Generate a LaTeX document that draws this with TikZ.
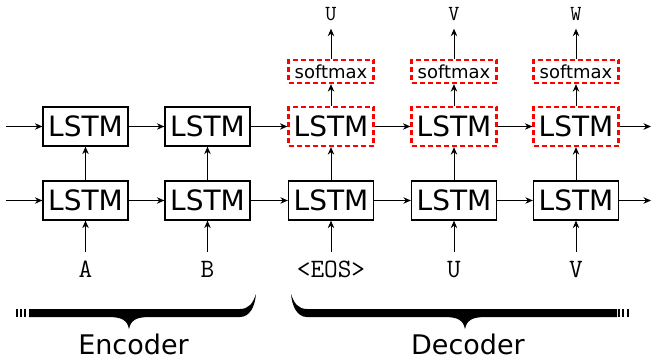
\documentclass[tikz,border=0pt]{standalone}
\usepackage{fontspec}
\newfontfamily\dejavu{DejaVu Sans}
\usetikzlibrary{arrows.meta}
\tikzset{
  lstmbox/.style={draw=black, line width=1.3pt, minimum width=85pt, minimum height=39pt, inner sep=0pt, font=\dejavu\fontsize{28}{30}\selectfont},
  redbox/.style={draw=red, line width=2.3pt, dash pattern=on 5pt off 3pt},
  smbox/.style={minimum width=85pt, minimum height=23pt, inner sep=0pt, font=\dejavu\fontsize{18}{20}\selectfont},
  inlab/.style={font=\ttfamily\fontsize{26.5}{28}\selectfont, anchor=base, inner sep=0pt, text height=17pt, text depth=0pt},
  outlab/.style={font=\ttfamily\fontsize{21.5}{23}\selectfont, anchor=base, inner sep=0pt, text height=13pt, text depth=0pt},
  arr/.style={-{Stealth[length=7.5pt,width=6.5pt]}, line width=1pt},
  partlab/.style={font=\dejavu\fontsize{27}{29}\selectfont, anchor=base, inner sep=0pt, text height=20pt, text depth=0pt},
  bracefill/.style={fill=black, draw=none}
}
\begin{document}
\begin{tikzpicture}[x=1pt,y=-1pt]
\useasboundingbox (0,0) rectangle (657,357);
% columns
\def\ca{85.5}\def\cb{207.5}\def\cc{331}\def\cd{454}\def\ce{576}
% bottom row
\node[lstmbox] (b1) at (\ca,200.5) {LSTM};
\node[lstmbox] (b2) at (\cb,200.5) {LSTM};
\node[lstmbox] (b3) at (\cc,200.5) {LSTM};
\node[lstmbox] (b4) at (\cd,200.5) {LSTM};
\node[lstmbox] (b5) at (\ce,200.5) {LSTM};
% top row
\node[lstmbox] (t1) at (\ca,126.5) {LSTM};
\node[lstmbox] (t2) at (\cb,126.5) {LSTM};
\node[lstmbox,redbox] (t3) at (\cc,126.5) {LSTM};
\node[lstmbox,redbox] (t4) at (\cd,126.5) {LSTM};
\node[lstmbox,redbox] (t5) at (\ce,126.5) {LSTM};
% softmax
\node[smbox,redbox] (s3) at (\cc,71.5) {softmax};
\node[smbox,redbox] (s4) at (\cd,71.5) {softmax};
\node[smbox,redbox] (s5) at (\ce,71.5) {softmax};
% inputs
\node[inlab] (i1) at (\ca,277) {A};
\node[inlab] (i2) at (\cb,277) {B};
\node[inlab] (i3) at (\cc,277) {<EOS>};
\node[inlab] (i4) at (\cd,277) {U};
\node[inlab] (i5) at (\ce,277) {V};
% outputs
\node[outlab] (o3) at (\cc,20.5) {U};
\node[outlab] (o4) at (\cd,20.5) {V};
\node[outlab] (o5) at (\ce,20.5) {W};
% free ends
\coordinate (tin) at (6,126.5);
\coordinate (bin) at (6,200.5);
\coordinate (tout) at (651,126.5);
\coordinate (bout) at (651,200.5);
% horizontal arrows
\draw[arr] (tin) -- (t1);
\draw[arr] (t1) -- (t2);
\draw[arr] (t2) -- (t3);
\draw[arr] (t3) -- (t4);
\draw[arr] (t4) -- (t5);
\draw[arr] (t5) -- (tout);
\draw[arr] (bin) -- (b1);
\draw[arr] (b1) -- (b2);
\draw[arr] (b2) -- (b3);
\draw[arr] (b3) -- (b4);
\draw[arr] (b4) -- (b5);
\draw[arr] (b5) -- (bout);
% vertical arrows
\foreach \k in {1,...,5}{
  \draw[arr, shorten <=8pt] (i\k.north) -- (b\k.south);
  \draw[arr] (b\k.north) -- (t\k.south);
}
\foreach \k in {3,4,5}{
  \draw[arr] (t\k.north) -- (s\k.south);
  \draw[arr, shorten >=8pt] (s\k.north) -- (o\k.south);
}
% encoder brace
\fill[bracefill] (29,309) -- (240,309) .. controls (249,309) and (253,303) .. (256,294)
  .. controls (255,306) and (250,317) .. (240,317) -- (150,317)
  .. controls (136,317) and (131,320) .. (129,329)
  .. controls (127,320) and (122,317) .. (108,317) -- (29,317) -- cycle;
\fill[bracefill] (15.7,309) rectangle (17.6,317);
\fill[bracefill] (20,309) rectangle (22,317);
\fill[bracefill] (24.3,309) rectangle (26.3,317);
% decoder brace
\fill[bracefill] (291,294) .. controls (294,303) and (298,309) .. (307,309) -- (617,309) -- (617,317) -- (486,317)
  .. controls (472,317) and (467,320) .. (465,329)
  .. controls (463,320) and (458,317) .. (444,317) -- (307,317)
  .. controls (297,317) and (292,306) .. (291,294) -- cycle;
\fill[bracefill] (618.3,309) rectangle (620.2,317);
\fill[bracefill] (622.4,309) rectangle (624.3,317);
\fill[bracefill] (626.7,309) rectangle (628.7,317);
% labels
\node[partlab] (enc) at (133.5,354) {Encoder};
\node[partlab] (dec) at (468,354) {Decoder};
\end{tikzpicture}
\end{document}
